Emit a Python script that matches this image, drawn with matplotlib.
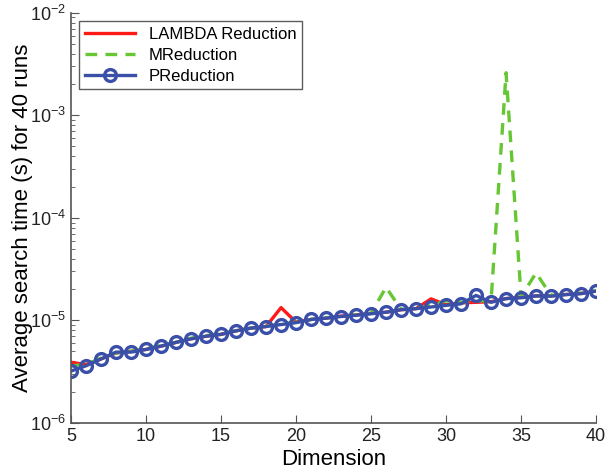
import numpy as np
import matplotlib.pyplot as plt
from matplotlib.ticker import LogLocator, NullFormatter

plt.rcParams['font.family'] = ['Liberation Sans', 'DejaVu Sans']

# dimension 5..40
dims = list(range(5, 41))

# PReduction (blue circles)
p_red = [3.2e-6, 3.6e-6, 4.2e-6, 4.9e-6, 4.9e-6, 5.2e-6, 5.6e-6, 6.1e-6, 6.6e-6, 7.0e-6,
         7.3e-6, 7.9e-6, 8.4e-6, 8.7e-6, 9.1e-6, 9.5e-6, 1.02e-5, 1.05e-5, 1.09e-5, 1.12e-5,
         1.16e-5, 1.2e-5, 1.27e-5, 1.3e-5, 1.35e-5, 1.4e-5, 1.45e-5, 1.75e-5, 1.5e-5, 1.63e-5,
         1.66e-5, 1.73e-5, 1.72e-5, 1.78e-5, 1.82e-5, 1.93e-5]

# LAMBDA reduction (red)
lambda_red = [3.9e-6, 3.7e-6, 4.2e-6, 4.8e-6, 5.0e-6, 5.2e-6, 5.6e-6, 6.1e-6, 6.6e-6, 7.0e-6,
              7.3e-6, 7.9e-6, 8.4e-6, 8.7e-6, 1.33e-5, 9.6e-6, 1.02e-5, 1.05e-5, 1.1e-5, 1.13e-5,
              1.17e-5, 1.2e-5, 1.27e-5, 1.3e-5, 1.62e-5, 1.42e-5, 1.48e-5, 1.5e-5, 1.52e-5, 1.63e-5,
              1.68e-5, 1.73e-5, 1.74e-5, 1.79e-5, 1.83e-5, 1.93e-5]

# MReduction (green dashed)
m_red = [3.6e-6, 3.7e-6, 4.3e-6, 4.8e-6, 5.0e-6, 5.3e-6, 5.7e-6, 6.1e-6, 6.7e-6, 7.1e-6,
         7.5e-6, 7.9e-6, 8.4e-6, 8.8e-6, 9.2e-6, 9.6e-6, 1.02e-5, 1.06e-5, 1.1e-5, 1.13e-5,
         1.17e-5, 2.1e-5, 1.28e-5, 1.3e-5, 1.4e-5, 1.55e-5, 1.5e-5, 1.55e-5, 1.55e-5, 2.6e-3,
         1.7e-5, 2.9e-5, 1.75e-5, 1.8e-5, 1.85e-5, 1.95e-5]

fig = plt.figure(figsize=(6.07, 4.73), dpi=100)
ax = fig.add_axes([0.117, 0.106, 0.865, 0.867])

ax.semilogy(dims, lambda_red, color='#ff1a1a', lw=2.4, label='LAMBDA Reduction')
ax.semilogy(dims, m_red, color='#66c633', lw=2.4, ls=(0, (3.5, 2.5)), label='MReduction')
ax.semilogy(dims, p_red, color='#3a50a8', lw=2.4, marker='o', ms=8.5, mfc='none', mew=2.4,
            label='PReduction')

ax.set_xlim(5, 40)
ax.set_ylim(1e-6, 1e-2)
ax.set_xticks([5, 10, 15, 20, 25, 30, 35, 40])
ax.yaxis.set_major_locator(LogLocator(base=10, numticks=10))
ax.yaxis.set_minor_locator(LogLocator(base=10, subs=np.arange(2, 10), numticks=10))
ax.yaxis.set_minor_formatter(NullFormatter())

for s in ['top', 'right']:
    ax.spines[s].set_visible(False)
for s in ['left', 'bottom']:
    ax.spines[s].set_color('#555555')
    ax.spines[s].set_linewidth(1.2)
ax.tick_params(which='both', direction='in', colors='#555555', labelcolor='#222222', labelsize=13)
ax.tick_params(which='major', length=6)
ax.tick_params(which='minor', length=3)

ax.set_xlabel('Dimension', fontsize=16, labelpad=3)
ax.set_ylabel('Average search time (s) for 40 runs', fontsize=16, labelpad=-2)

leg = ax.legend(loc='upper left', fontsize=12, frameon=True, fancybox=False,
                borderaxespad=0.5, handlelength=3.0, labelspacing=0.35, borderpad=0.35)
leg.get_frame().set_edgecolor('#333333')
leg.get_frame().set_linewidth(1.0)

fig.savefig('out.png', dpi=100)
